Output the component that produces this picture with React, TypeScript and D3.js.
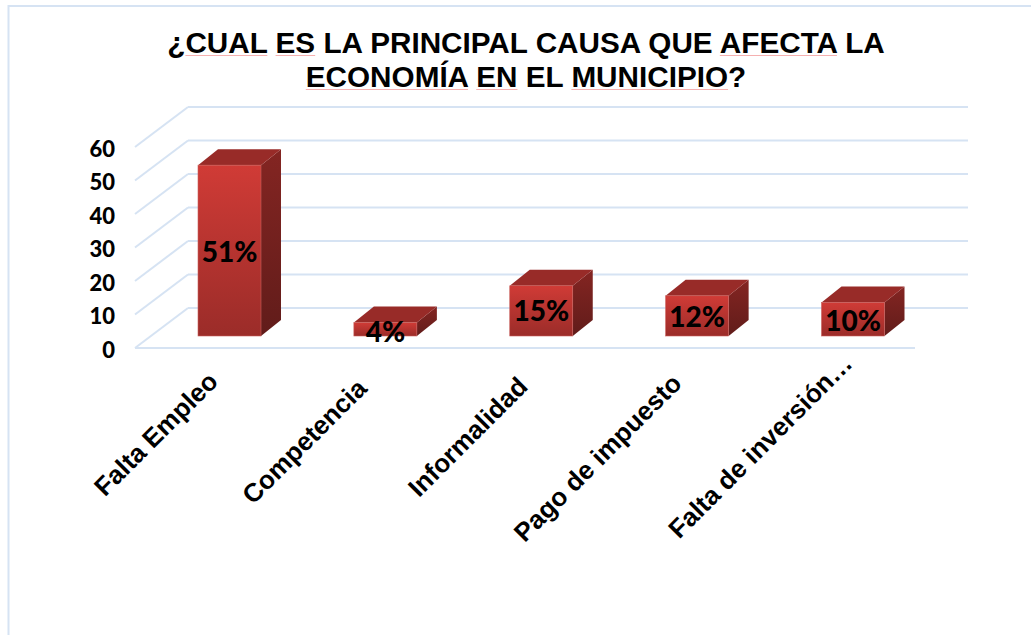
import React, { useLayoutEffect, useRef } from "react";
import * as d3 from "d3";

const categories = ["Falta Empleo", "Competencia", "Informalidad", "Pago de impuesto", "Falta de inversión…"];
const values = [51, 4, 15, 12, 10];
const valueLabels = ["51%", "4%", "15%", "12%", "10%"];
const ticks = [0, 10, 20, 30, 40, 50, 60];
const titleLines = [
  [["¿", false], ["CUAL", true], [" ", false], ["ES", true], [" LA PRINCIPAL CAUSA QUE ", false], ["AFECTA", true], [" LA", false]],
  [["ECONOMÍA", true], [" ", false], ["EN", true], [" EL ", false], ["MUNICIPIO", true], ["?", false]],
] as [string, boolean][][];

const W = 1031, H = 635;
const y = d3.scaleLinear().domain([0, 60]).range([348, 147]);
const x = d3.scalePoint<string>().domain(categories).range([229.5, 853]);
const BACK = { dx: 53, dy: -40 };
const DEPTH = { dx: 20, dy: -16 };
const FRONT_X0 = 135, FRONT_X1 = 915;
const BAR_W = 63, BAR_LIFT = 12;
const grid = "#d6e3f3";
const labelShift = [[-10, 383], [-17, 390], [-12, 388], [-14, 385], [1, 365]];
const valueY = [262, 342, 321, 327, 331];
const titleY = [53, 87];

const poly = d3.line();

export default function App() {
  const titleRef = useRef<SVGGElement>(null);
  useLayoutEffect(() => {
    const g = d3.select(titleRef.current);
    g.selectAll("line").remove();
    g.selectAll<SVGTSpanElement, unknown>("tspan[data-u]").each(function () {
      const n = this.textContent ? this.getComputedTextLength() : 0;
      const start = this.getStartPositionOfChar(0);
      g.append("line")
        .attr("x1", start.x).attr("x2", start.x + n)
        .attr("y1", start.y + 2.5).attr("y2", start.y + 2.5)
        .attr("stroke", "#f5b0b0").attr("stroke-width", 1.2);
    });
  }, []);
  return (
    <svg width={W} height={H} viewBox={`0 0 ${W} ${H}`}
      style={{ position: "absolute", left: 0, top: 0, background: "#fff" }}>
      <defs>
        <linearGradient id="front" x1="0" y1="0" x2="0" y2="1">
          <stop offset="0" stopColor="#d03b36" />
          <stop offset="1" stopColor="#9b2c29" />
        </linearGradient>
        <linearGradient id="side" x1="0" y1="0" x2="0" y2="1">
          <stop offset="0" stopColor="#842522" />
          <stop offset="1" stopColor="#611c1a" />
        </linearGradient>
      </defs>

      <path d={`M8.5 ${H}V6H${W}`} fill="none" stroke={grid} strokeWidth={2} />

      {ticks.map(t => (
        <g key={t}>
          {t > 0 && <path d={`M${FRONT_X0 + BACK.dx} ${y(t) + BACK.dy}H${FRONT_X1 + BACK.dx}`} fill="none" stroke={grid} strokeWidth={2} />}
          <path d={`M${FRONT_X0} ${y(t)}L${FRONT_X0 + BACK.dx} ${y(t) + BACK.dy}`} fill="none" stroke={grid} strokeWidth={2} />
          <text x={115} y={y(t) + 9.5} textAnchor="end" fontFamily="Lato, sans-serif" fontWeight={900}
            fontSize={22} fill="#000">{t}</text>
        </g>
      ))}
      <path d={`M${FRONT_X0 + BACK.dx} ${y(0) + BACK.dy}H${FRONT_X1 + BACK.dx}`} fill="none" stroke={grid} strokeWidth={2} />
      <path d={`M${FRONT_X0} ${y(0)}H${FRONT_X1}`} fill="none" stroke={grid} strokeWidth={2} />

      {categories.map((c, i) => {
        const x0 = x(c)! - BAR_W / 2, x1 = x0 + BAR_W;
        const yb = y(0) - BAR_LIFT, yt = y(values[i]) - BAR_LIFT;
        const d = DEPTH;
        return (
          <g key={c}>
            <path d={poly([[x1, yt], [x1 + d.dx, yt + d.dy], [x1 + d.dx, yb + d.dy], [x1, yb]])! + "Z"} fill="url(#side)" />
            <path d={poly([[x0, yt], [x0 + d.dx, yt + d.dy], [x1 + d.dx, yt + d.dy], [x1, yt]])! + "Z"} fill="#982b28" />
            <rect x={x0} y={yt} width={BAR_W} height={yb - yt} fill="url(#front)" stroke="#c9605c" strokeWidth={0.6} />
            <text x={x(c)!} y={valueY[i]} textAnchor="middle" fontFamily="Lato, sans-serif"
              fontWeight={900} fontSize={28} fill="#000">{valueLabels[i]}</text>
            <text transform={`translate(${x(c)! + labelShift[i][0]},${labelShift[i][1]}) rotate(-45)`} textAnchor="end"
              fontFamily="'Liberation Sans', Arial, sans-serif" fontWeight={700} fontSize={26} fill="#000">{c}</text>
          </g>
        );
      })}

      <g ref={titleRef}>
        {titleLines.map((line, i) => (
          <text key={i} x={526} y={titleY[i]} textAnchor="middle"
            fontFamily="'Liberation Sans', Arial, sans-serif" fontWeight={700} fontSize={29.7} fill="#000"
            style={{ whiteSpace: "pre" }}>
            {line.map(([s, u], j) => (
              <tspan key={j} data-u={u ? "1" : undefined}>{s}</tspan>
            ))}
          </text>
        ))}
      </g>
    </svg>
  );
}
